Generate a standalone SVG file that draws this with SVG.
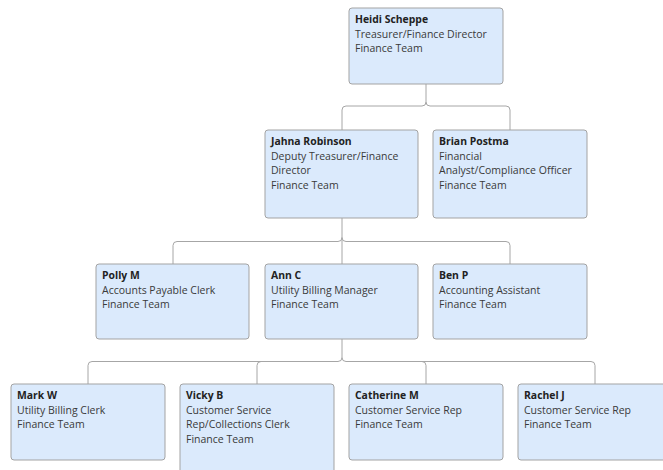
<svg xmlns="http://www.w3.org/2000/svg" width="663" height="470" viewBox="0 0 663 470">
<style>
.box{fill:#dbeafc;stroke:#a3a3a3;stroke-width:1}
.n{font-family:"Open Sans","Liberation Sans",sans-serif;font-size:10.4px;font-weight:bold;fill:#222}
.t{font-family:"Open Sans","Liberation Sans",sans-serif;font-size:10.5px;fill:#3a3a3a}
.c{fill:none;stroke:#a6a6a6;stroke-width:1}
</style>
<rect width="663" height="470" fill="#fff"/>
<g id="connectors">
<path class="c" d="M426,84V102Q426,106 422,106H346Q342,106 342,110V130M426,102Q426,106 430,106H506Q510,106 510,110V130"/>
<path class="c" d="M342,218V237.5Q342,241.5 338,241.5H177Q173,241.5 173,245.5V264M342,237.5V264M342,237.5Q342,241.5 346,241.5H506Q510,241.5 510,245.5V264"/>
<path class="c" d="M342,339V357.5Q342,361.5 338,361.5H92Q88,361.5 88,365.5V384M261,361.5Q257,361.5 257,365.5V384M342,357.5Q342,361.5 346,361.5H591Q595,361.5 595,365.5V384M422,361.5Q426,361.5 426,365.5V384"/>
</g>
<g id="heidi"><rect class="box" x="349" y="8" width="154" height="76" rx="3"/><text class="n" x="355" y="23">Heidi Scheppe</text><text class="t" x="355" y="38">Treasurer/Finance Director</text><text class="t" x="355" y="52">Finance Team</text></g>
<g id="jahna"><rect class="box" x="265" y="130" width="153" height="88" rx="3"/><text class="n" x="271" y="144.5">Jahna Robinson</text><text class="t" x="271" y="159.5">Deputy Treasurer/Finance</text><text class="t" x="271" y="174">Director</text><text class="t" x="271" y="188.5">Finance Team</text></g>
<g id="brian"><rect class="box" x="433" y="130" width="154" height="88" rx="3"/><text class="n" x="439" y="144.5">Brian Postma</text><text class="t" x="439" y="159.5">Financial</text><text class="t" x="439" y="174">Analyst/Compliance Officer</text><text class="t" x="439" y="188.5">Finance Team</text></g>
<g id="polly"><rect class="box" x="96" y="264" width="153" height="75" rx="3"/><text class="n" x="102" y="278.5">Polly M</text><text class="t" x="102" y="293.5">Accounts Payable Clerk</text><text class="t" x="102" y="308">Finance Team</text></g>
<g id="ann"><rect class="box" x="265" y="264" width="153" height="75" rx="3"/><text class="n" x="271" y="278.5">Ann C</text><text class="t" x="271" y="293.5">Utility Billing Manager</text><text class="t" x="271" y="308">Finance Team</text></g>
<g id="ben"><rect class="box" x="433" y="264" width="154" height="75" rx="3"/><text class="n" x="439" y="278.5">Ben P</text><text class="t" x="439" y="293.5">Accounting Assistant</text><text class="t" x="439" y="308">Finance Team</text></g>
<g id="mark"><rect class="box" x="11" y="384" width="154" height="76" rx="3"/><text class="n" x="17" y="398.5">Mark W</text><text class="t" x="17" y="413.5">Utility Billing Clerk</text><text class="t" x="17" y="428">Finance Team</text></g>
<g id="vicky"><rect class="box" x="180" y="384" width="154" height="92" rx="3"/><text class="n" x="186" y="398.5">Vicky B</text><text class="t" x="186" y="413.5">Customer Service</text><text class="t" x="186" y="428">Rep/Collections Clerk</text><text class="t" x="186" y="442.5">Finance Team</text></g>
<g id="catherine"><rect class="box" x="349" y="384" width="154" height="76" rx="3"/><text class="n" x="355" y="398.5">Catherine M</text><text class="t" x="355" y="413.5">Customer Service Rep</text><text class="t" x="355" y="428">Finance Team</text></g>
<g id="rachel"><rect class="box" x="518" y="384" width="154" height="76" rx="3"/><text class="n" x="524" y="398.5">Rachel J</text><text class="t" x="524" y="413.5">Customer Service Rep</text><text class="t" x="524" y="428">Finance Team</text></g>
</svg>
